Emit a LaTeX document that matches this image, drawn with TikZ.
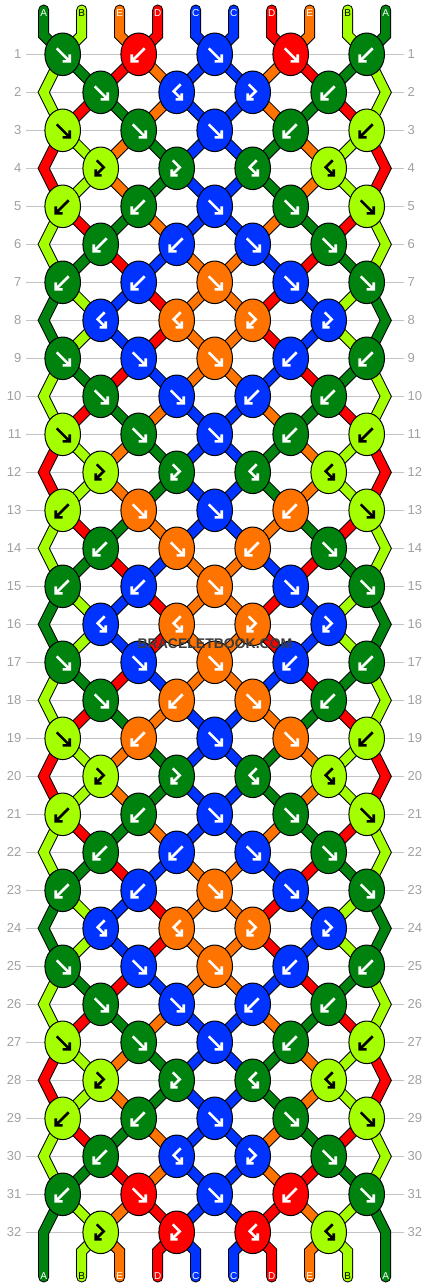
\documentclass[tikz,border=0pt]{standalone}
\usepackage{fontspec}
\setmainfont{Liberation Sans}
\usetikzlibrary{shapes.geometric}
\definecolor{cA}{HTML}{00820F}
\definecolor{cB}{HTML}{A4FF00}
\definecolor{cC}{HTML}{0033FF}
\definecolor{cD}{HTML}{FF0000}
\definecolor{cE}{HTML}{FF7300}
\colorlet{aA}{white}\colorlet{aB}{black}\colorlet{aC}{white}\colorlet{aD}{white}\colorlet{aE}{white}
\definecolor{numgray}{HTML}{A0A0A0}
\definecolor{linegray}{HTML}{C4C4C4}
\definecolor{wmgray}{HTML}{3C3C3C}
\pgfdeclarelayer{grid}\pgfdeclarelayer{strings}
\pgfsetlayers{grid,strings,main}
\newcommand\glyphF{\draw[glyph] (-6,-6) -- (7,7) (7,0) -- (7,7) -- (0,7);}
\newcommand\glyphB{\draw[glyph] (6,-6) -- (-7,7) (-7,0) -- (-7,7) -- (0,7);}
\newcommand\glyphFB{\draw[glyph] (-4,-8) -- (3,-1) -- (-5,7) (-5,1) -- (-5,7) -- (1,7);}
\newcommand\glyphBF{\draw[glyph] (4,-8) -- (-3,-1) -- (5,7) (5,1) -- (5,7) -- (-1,7);}
\tikzset{
 knot/.style={ellipse, draw=black, line width=1pt, minimum width=35.6pt, minimum height=42.6pt, inner sep=0pt},
 strand/.style={line width=9pt, line join=miter, preaction={draw=black, line width=11pt, line join=miter}},
 endstrand/.style={line width=9pt, line join=miter, line cap=round, preaction={draw=black, line width=11pt, line join=miter, line cap=round}},
 glyph/.style={line width=2.6pt, line join=miter, line cap=butt},
 num/.style={text=numgray, font=\fontsize{13}{13}\selectfont, inner sep=0pt},
 rowline/.style={draw=linegray, line width=1.2pt},
 lbl/.style={font=\fontsize{10}{10}\selectfont, inner sep=0pt},
 wm/.style={font=\bfseries\fontsize{14}{14}\selectfont, text=wmgray, inner sep=0pt},
}
\begin{document}
\begin{tikzpicture}[x=1pt,y=-1pt]
\useasboundingbox (0,0) rectangle (430,1288);
% row lines and numbers
\begin{pgfonlayer}{grid}
\foreach \rr in {1,...,32} {
  \pgfmathsetmacro\Y{54.3+38*(\rr-1)}
  \coordinate (gl-\rr) at (26,\Y);
  \coordinate (gr-\rr) at (404,\Y);
  \draw[rowline] (gl-\rr) -- (gr-\rr);
  \node[num, anchor=east] (ln-\rr) at (21.5,\Y) {\rr};
  \node[num, anchor=west] (rn-\rr) at (407.5,\Y) {\rr};
}
\end{pgfonlayer}
% knots
\foreach \row [count=\rr] in {%
{F/A,B/D,F/C,F/D,B/A},%
{F/A,BF/C,FB/C,B/A},%
{F/B,F/A,F/C,B/A,B/B},%
{FB/B,FB/A,BF/A,BF/B},%
{B/B,B/A,F/C,F/A,F/B},%
{B/A,B/C,F/C,F/A},%
{B/A,B/C,F/E,F/C,F/A},%
{BF/C,BF/E,FB/E,FB/C},%
{F/A,F/C,F/E,B/C,B/A},%
{F/A,F/C,B/C,B/A},%
{F/B,F/A,F/C,B/A,B/B},%
{FB/B,FB/A,BF/A,BF/B},%
{B/B,F/E,F/C,B/E,F/B},%
{B/A,F/E,B/E,F/A},%
{B/A,B/C,F/E,F/C,F/A},%
{BF/C,BF/E,FB/E,FB/C},%
{F/A,F/C,F/E,B/C,B/A},%
{F/A,B/E,F/E,B/A},%
{F/B,B/E,F/C,F/E,B/B},%
{FB/B,FB/A,BF/A,BF/B},%
{B/B,B/A,F/C,F/A,F/B},%
{B/A,B/C,F/C,F/A},%
{B/A,B/C,F/E,F/C,F/A},%
{BF/C,BF/E,FB/E,FB/C},%
{F/A,F/C,F/E,B/C,B/A},%
{F/A,F/C,B/C,B/A},%
{F/B,F/A,F/C,B/A,B/B},%
{FB/B,FB/A,BF/A,BF/B},%
{B/B,B/A,F/C,F/A,F/B},%
{B/A,BF/C,FB/C,F/A},%
{B/A,F/D,F/C,B/D,F/A},%
{FB/B,FB/D,BF/D,BF/B}%
} {
  \foreach \ty/\cl [count=\kk from 0] in \row {
    \pgfmathtruncatemacro\pp{2*\kk+1-mod(\rr,2)}
    \pgfmathsetmacro\X{62.7+38*\pp}
    \pgfmathsetmacro\Y{54.3+38*(\rr-1)}
    \node[knot, fill=c\cl] (k-\rr-\pp) at (\X,\Y) {};
    \begin{scope}[shift={(\X,\Y)}, color=a\cl]
      \csname glyph\ty\endcsname
    \end{scope}
  }
}
% strings
\begin{pgfonlayer}{strings}
\foreach \st [count=\rr] in {%
{B,A,D,E,C,C,E,D,A,B},%
{B,D,A,E,C,C,E,A,D,B},%
{D,B,E,A,C,C,A,E,B,D},%
{D,B,E,A,C,C,A,E,B,D},%
{B,D,A,E,C,C,E,A,D,B},%
{B,A,D,C,E,E,C,D,A,B},%
{A,B,C,D,E,E,D,C,B,A},%
{A,B,C,D,E,E,D,C,B,A},%
{B,A,D,C,E,E,C,D,A,B},%
{B,D,A,E,C,C,E,A,D,B},%
{D,B,E,A,C,C,A,E,B,D},%
{D,B,E,A,C,C,A,E,B,D},%
{B,D,A,E,C,C,E,A,D,B},%
{B,A,D,C,E,E,C,D,A,B},%
{A,B,C,D,E,E,D,C,B,A},%
{A,B,C,D,E,E,D,C,B,A},%
{B,A,D,C,E,E,C,D,A,B},%
{B,D,A,E,C,C,E,A,D,B},%
{D,B,E,A,C,C,A,E,B,D},%
{D,B,E,A,C,C,A,E,B,D},%
{B,D,A,E,C,C,E,A,D,B},%
{B,A,D,C,E,E,C,D,A,B},%
{A,B,C,D,E,E,D,C,B,A},%
{A,B,C,D,E,E,D,C,B,A},%
{B,A,D,C,E,E,C,D,A,B},%
{B,D,A,E,C,C,E,A,D,B},%
{D,B,E,A,C,C,A,E,B,D},%
{D,B,E,A,C,C,A,E,B,D},%
{B,D,A,E,C,C,E,A,D,B},%
{B,A,D,E,C,C,E,D,A,B},%
{A,B,E,D,C,C,D,E,B,A}%
} {
  \pgfmathtruncatemacro\rn{\rr+1}
  \foreach \cl [count=\ii from 0] in \st {
    \ifnum\ii>0 \ifnum\ii<9
      \pgfmathtruncatemacro\pa{\ii-mod(\ii+\rr+1,2)}
      \pgfmathtruncatemacro\pb{\ii-mod(\ii+\rr,2)}
      \draw[strand, c\cl] (k-\rr-\pa.center) -- (k-\rn-\pb.center);
    \fi\fi
  }
}
% edge strings
\foreach \rr/\cl in {2/B,4/D,6/B,8/A,10/B,12/D,14/B,16/A,18/B,20/D,22/B,24/A,26/B,28/D,30/B} {
  \pgfmathtruncatemacro\ra{\rr-1}
  \pgfmathtruncatemacro\rb{\rr+1}
  \pgfmathsetmacro\Y{54.3+38*(\rr-1)}
  \coordinate (v-\rr-0) at (43.7,\Y);
  \coordinate (v-\rr-9) at (385.7,\Y);
  \draw[strand, c\cl] (k-\ra-0.center) -- (v-\rr-0) -- (k-\rb-0.center);
  \draw[strand, c\cl] (k-\ra-8.center) -- (v-\rr-9) -- (k-\rb-8.center);
}
% top ends
\foreach \cl [count=\ii from 0] in {A,B,E,D,C,C,D,E,B,A} {
  \pgfmathsetmacro\X{43.7+38*\ii}
  \pgfmathtruncatemacro\pp{\ii-mod(\ii,2)}
  \coordinate (t-\ii) at (\X,10);
  \coordinate (tb-\ii) at (\X,35.3);
  \draw[endstrand, c\cl] (t-\ii) -- (tb-\ii) -- (k-1-\pp.center);
}
% bottom ends
\foreach \cl [count=\ii from 0] in {A,B,E,D,C,C,D,E,B,A} {
  \pgfmathsetmacro\X{43.7+38*\ii}
  \coordinate (be-\ii) at (\X,1277);
  \ifnum\ii>0 \ifnum\ii<9
    \pgfmathtruncatemacro\pp{\ii-mod(\ii+1,2)}
    \coordinate (bb-\ii) at (\X,1251.3);
    \draw[endstrand, c\cl] (k-32-\pp.center) -- (bb-\ii) -- (be-\ii);
  \fi\fi
}
\coordinate (v-32-0) at (43.7,1232.3);
\coordinate (v-32-9) at (385.7,1232.3);
\draw[endstrand, cA] (k-31-0.center) -- (v-32-0) -- (be-0);
\draw[endstrand, cA] (k-31-8.center) -- (v-32-9) -- (be-9);
\end{pgfonlayer}
% end labels
\foreach \cl [count=\ii from 0] in {A,B,E,D,C,C,D,E,B,A} {
  \pgfmathsetmacro\X{43.7+38*\ii}
  \node[lbl, text=a\cl] (tl-\ii) at (\X,13) {\cl};
  \node[lbl, text=a\cl] (bl-\ii) at (\X,1276) {\cl};
}
\node[wm] (wm) at (215,644) {BRACELETBOOK.COM};
\end{tikzpicture}
\end{document}
